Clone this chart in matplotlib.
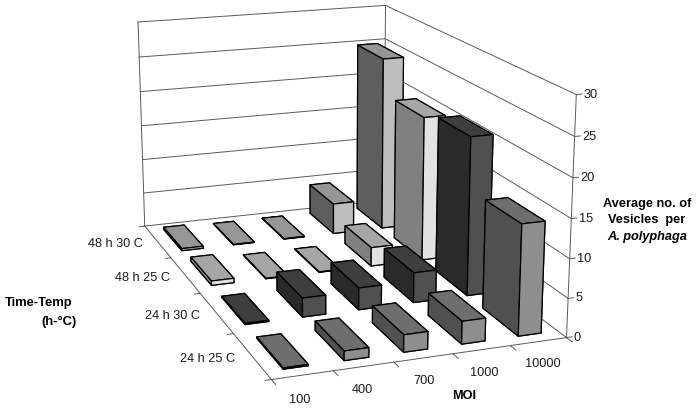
import numpy as np
import matplotlib
matplotlib.use('Agg')
import matplotlib.pyplot as plt
from mpl_toolkits.mplot3d import proj3d

plt.rcParams['font.family'] = ['Liberation Sans', 'DejaVu Sans']

W, H = 697, 410

moi_labels = ['100', '400', '700', '1000', '10000']
time_labels = ['24 h 25 C', '24 h 30 C', '48 h 25 C', '48 h 30 C']
z_ticks = [0, 5, 10, 15, 20, 25, 30]

row_24h25 = [0.15, 1.2, 2.2, 2.9, 14.2]
row_24h30 = [0.15, 2.5, 2.9, 4.0, 21.1]
row_48h25 = [0.6, 0.05, 0.05, 2.6, 20.0]
row_48h30 = [0.3, 0.05, 0.05, 4.4, 24.9]
rows = [row_24h25, row_24h30, row_48h25, row_48h30]

# face colours per row: top, front (-y), left (-x)
row_colors = [
    ('#6e6e6e', '#8e8e8e', '#505050'),
    ('#3e3e3e', '#505050', '#2a2a2a'),
    ('#a6a6a6', '#e2e2e2', '#808080'),
    ('#969696', '#bdbdbd', '#5e5e5e'),
]

bar_dx = 0.41
bar_dy = 0.68

fig = plt.figure(figsize=(W / 100, H / 100), dpi=100)
ax = fig.add_axes([42.732 / W, -52.024 / H, 571.031 / W, 571.031 / H], projection='3d')
ax.set_xlim(0, 5)
ax.set_ylim(0, 4)
ax.set_zlim(0, 30)
ax.view_init(elev=15.997, azim=-109.983)
ax.set_proj_type('persp', focal_length=0.547)
ax.set_box_aspect((1.241, 1.99, 1))
ax.set_axis_off()
ax.computed_zorder = False

grid = '#5a5a5a'

# walls
for v in z_ticks:
    ax.plot([0, 5, 5], [4, 4, 0], [v, v, v], color=grid, lw=0.7, zorder=1)
ax.plot([0, 0], [4, 4], [0, 30], color=grid, lw=0.7, zorder=1)
ax.plot([5, 5], [4, 4], [0, 30], color=grid, lw=0.7, zorder=1)
ax.plot([5, 5], [0, 0], [0, 30], color=grid, lw=0.7, zorder=1)
ax.plot([5, 0, 0], [0, 0, 4], [0, 0, 0], color=grid, lw=0.7, zorder=1)

# ticks
for i in range(6):
    ax.plot([i, i], [0, -0.1], [0, 0], color=grid, lw=0.7, zorder=1)
for j in range(5):
    ax.plot([0, -0.1], [j, j], [0, 0], color=grid, lw=0.7, zorder=1)
for v in z_ticks:
    ax.plot([5, 5.1], [0, 0], [v, v], color=grid, lw=0.7, zorder=1)

# bars, back to front
z = 2
for j in range(3, -1, -1):
    top, front, left = row_colors[j]
    for i in range(4, -1, -1):
        ax.bar3d(i + 0.5 - bar_dx / 2, j + 0.5 - bar_dy / 2, 0, bar_dx, bar_dy, rows[j][i],
                 color=[top, top, front, front, left, left], shade=False,
                 edgecolor='black', linewidth=0.9, zorder=z)
        z += 1

# tick labels, placed at the projected position of a 3d point
def tick_label(x, y, zv, s, ha):
    x2, y2, _ = proj3d.proj_transform(x, y, zv, ax.get_proj())
    ax.annotate(s, (x2, y2), fontsize=9.2, ha=ha, va='center', color='#1a1a1a', annotation_clip=False)

for i, lab in enumerate(moi_labels):
    tick_label(i + 0.17, -0.41, 0, lab, 'center')
for j, lab in enumerate(time_labels):
    tick_label(-0.28, j + 0.5, 0, lab, 'right')
for v in z_ticks:
    tick_label(5.13, 0, v, str(v), 'left')

# axis titles
def px_text(x, y, s, size=9.2, **kw):
    fig.text(x / W, 1 - y / H, s, fontsize=size, fontweight='bold', ha='center', va='center', **kw)

px_text(39, 303, 'Time-Temp', size=9.4)
px_text(59, 322, '(h-°C)', size=9.4)
px_text(464, 396, 'MOI')
px_text(647, 204, 'Average no. of')
px_text(647, 220, 'Vesicles  per')
px_text(647, 237, 'A. polyphaga', style='italic')

fig.savefig('out.png', dpi=100)
